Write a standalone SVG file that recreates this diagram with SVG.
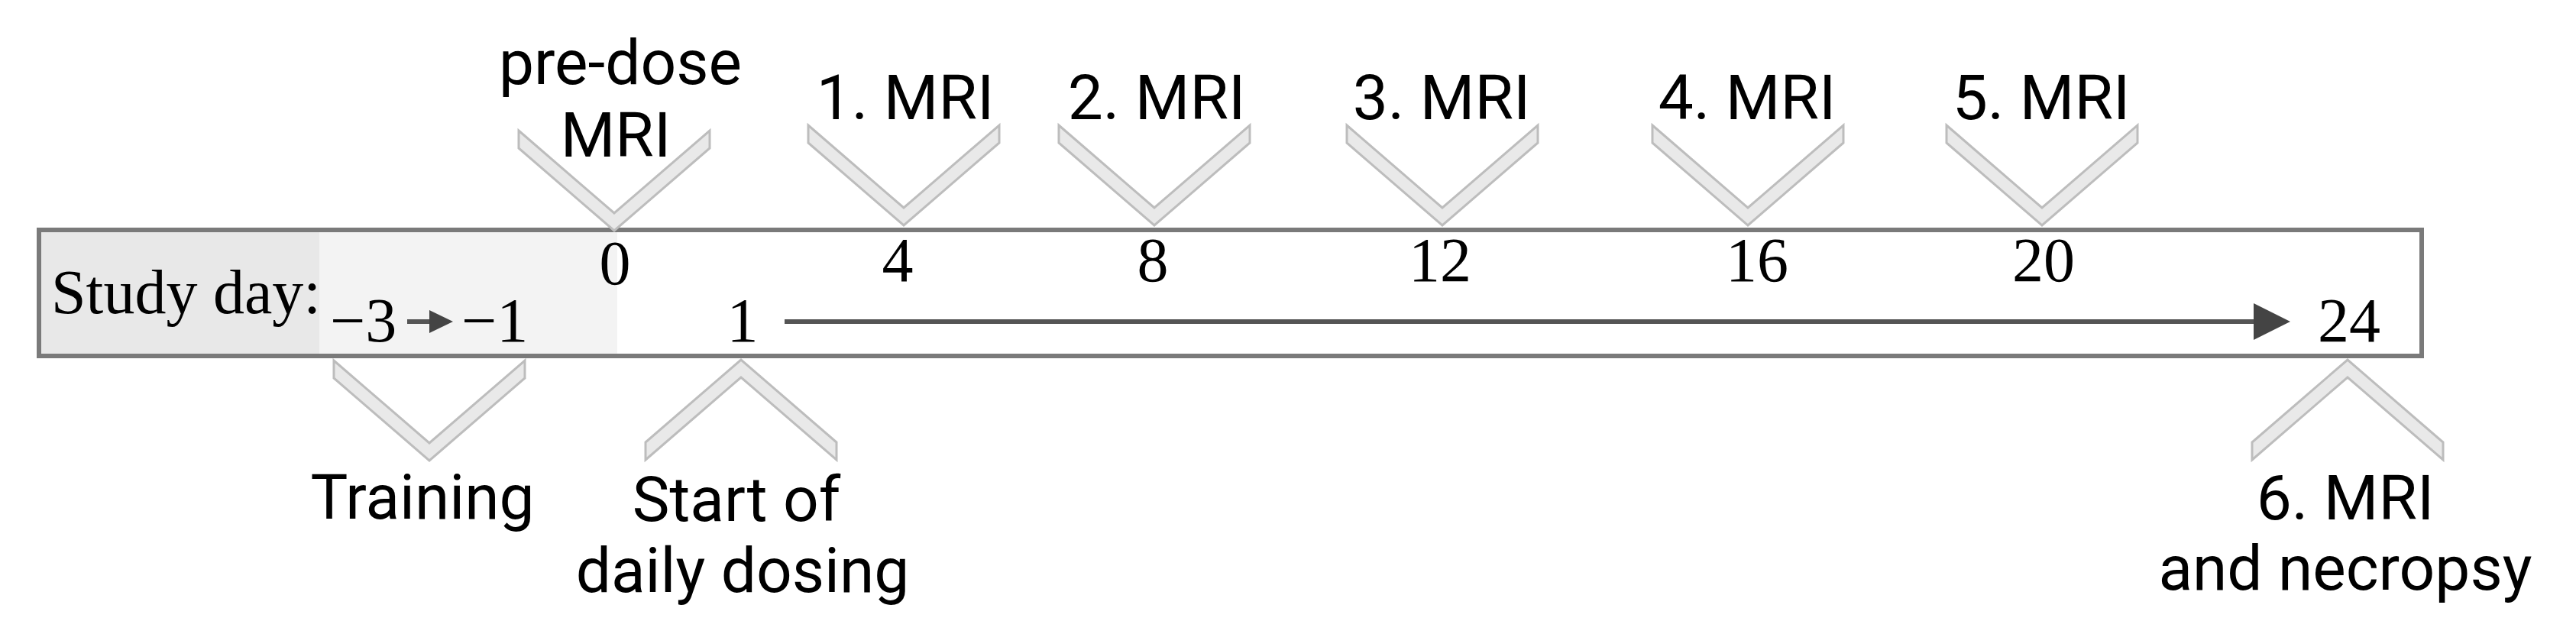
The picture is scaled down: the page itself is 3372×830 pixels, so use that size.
<svg xmlns="http://www.w3.org/2000/svg" xmlns:xlink="http://www.w3.org/1999/xlink" width="3372" height="830" viewBox="0 0 3372 830">
  <style>
    .lbl { font-family: Roboto, "Liberation Sans", sans-serif; font-size: 82px; fill: #000; text-anchor: middle; }
    .num { font-family: "Liberation Serif", "Times New Roman", serif; font-size: 82px; fill: #000; text-anchor: middle; }
    .numl { font-family: "Liberation Serif", "Times New Roman", serif; font-size: 82px; fill: #000; text-anchor: start; }
    .chev { fill: #e9e9e9; stroke: #bdbdbd; stroke-width: 3; stroke-linejoin: miter; }
    .axis { stroke: #555; stroke-width: 6; fill: none; }
  </style>
  <defs>
    <path id="chevDown" d="M-125,-131 L0,-23 L125,-131 L125,-108 L0,0 L-125,-108 Z"/>
    <path id="chevUp" d="M-125,131 L0,23 L125,131 L125,108 L0,0 L-125,108 Z"/>
    <marker id="headBig" markerUnits="userSpaceOnUse" markerWidth="48" markerHeight="48" refX="10" refY="24" orient="auto">
      <path d="M0,0 L48,24 L0,48 Z" fill="#444"/>
    </marker>
    <marker id="headSmall" markerUnits="userSpaceOnUse" markerWidth="31" markerHeight="30" refX="6" refY="15" orient="auto">
      <path d="M0,0 L31,15 L0,30 Z" fill="#444"/>
    </marker>
  </defs>

  <rect width="3372" height="830" fill="#ffffff"/>

  <g id="study-day-bar">
    <rect x="51" y="301" width="3119" height="165" fill="#ffffff"/>
    <rect x="51" y="301" width="367" height="165" fill="#e8e8e8"/>
    <rect x="418" y="301" width="390" height="165" fill="#f3f3f3"/>
    <rect x="51" y="301" width="3119" height="165" fill="none" stroke="#7a7a7a" stroke-width="6"/>
    <text class="numl" x="67" y="410">Study day:</text>
  </g>

  <g id="days">
    <text class="numl" x="432" y="447">−3</text>
    <text class="numl" x="604" y="447">−1</text>
    <text class="num" x="805" y="372">0</text>
    <text class="num" x="972" y="447">1</text>
    <text class="num" x="1175" y="368">4</text>
    <text class="num" x="1509" y="368">8</text>
    <text class="num" x="1885" y="368">12</text>
    <text class="num" x="2300" y="368">16</text>
    <text class="num" x="2675" y="368">20</text>
    <text class="num" x="3075" y="447">24</text>
  </g>

  <g id="connectors">
    <line class="axis" x1="1027" y1="421" x2="2960" y2="421" marker-end="url(#headBig)"/>
    <line class="axis" x1="533" y1="421" x2="568" y2="421" marker-end="url(#headSmall)"/>
  </g>

  <g id="pre-dose-mri">
    <use xlink:href="#chevDown" href="#chevDown" class="chev" x="804" y="302"/>
    <text class="lbl" x="812" y="110">pre-dose</text>
    <text class="lbl" x="806" y="205">MRI</text>
  </g>

  <g id="mri-1">
    <use xlink:href="#chevDown" href="#chevDown" class="chev" x="1183" y="295"/>
    <text class="lbl" x="1185" y="156">1. MRI</text>
  </g>

  <g id="mri-2">
    <use xlink:href="#chevDown" href="#chevDown" class="chev" x="1511" y="295"/>
    <text class="lbl" x="1514" y="156">2. MRI</text>
  </g>

  <g id="mri-3">
    <use xlink:href="#chevDown" href="#chevDown" class="chev" x="1888" y="295"/>
    <text class="lbl" x="1887" y="156">3. MRI</text>
  </g>

  <g id="mri-4">
    <use xlink:href="#chevDown" href="#chevDown" class="chev" x="2288" y="295"/>
    <text class="lbl" x="2287" y="156">4. MRI</text>
  </g>

  <g id="mri-5">
    <use xlink:href="#chevDown" href="#chevDown" class="chev" x="2673" y="295"/>
    <text class="lbl" x="2672" y="156">5. MRI</text>
  </g>

  <g id="training">
    <use xlink:href="#chevDown" href="#chevDown" class="chev" x="562" y="603"/>
    <text class="lbl" x="553" y="679">Training</text>
  </g>

  <g id="start-dosing">
    <use xlink:href="#chevUp" href="#chevUp" class="chev" x="970" y="471"/>
    <text class="lbl" x="964" y="682">Start of</text>
    <text class="lbl" x="972" y="775">daily dosing</text>
  </g>

  <g id="mri-6-necropsy">
    <use xlink:href="#chevUp" href="#chevUp" class="chev" x="3073" y="471"/>
    <text class="lbl" x="3070" y="680">6. MRI</text>
    <text class="lbl" x="3070" y="772">and necropsy</text>
  </g>
</svg>
